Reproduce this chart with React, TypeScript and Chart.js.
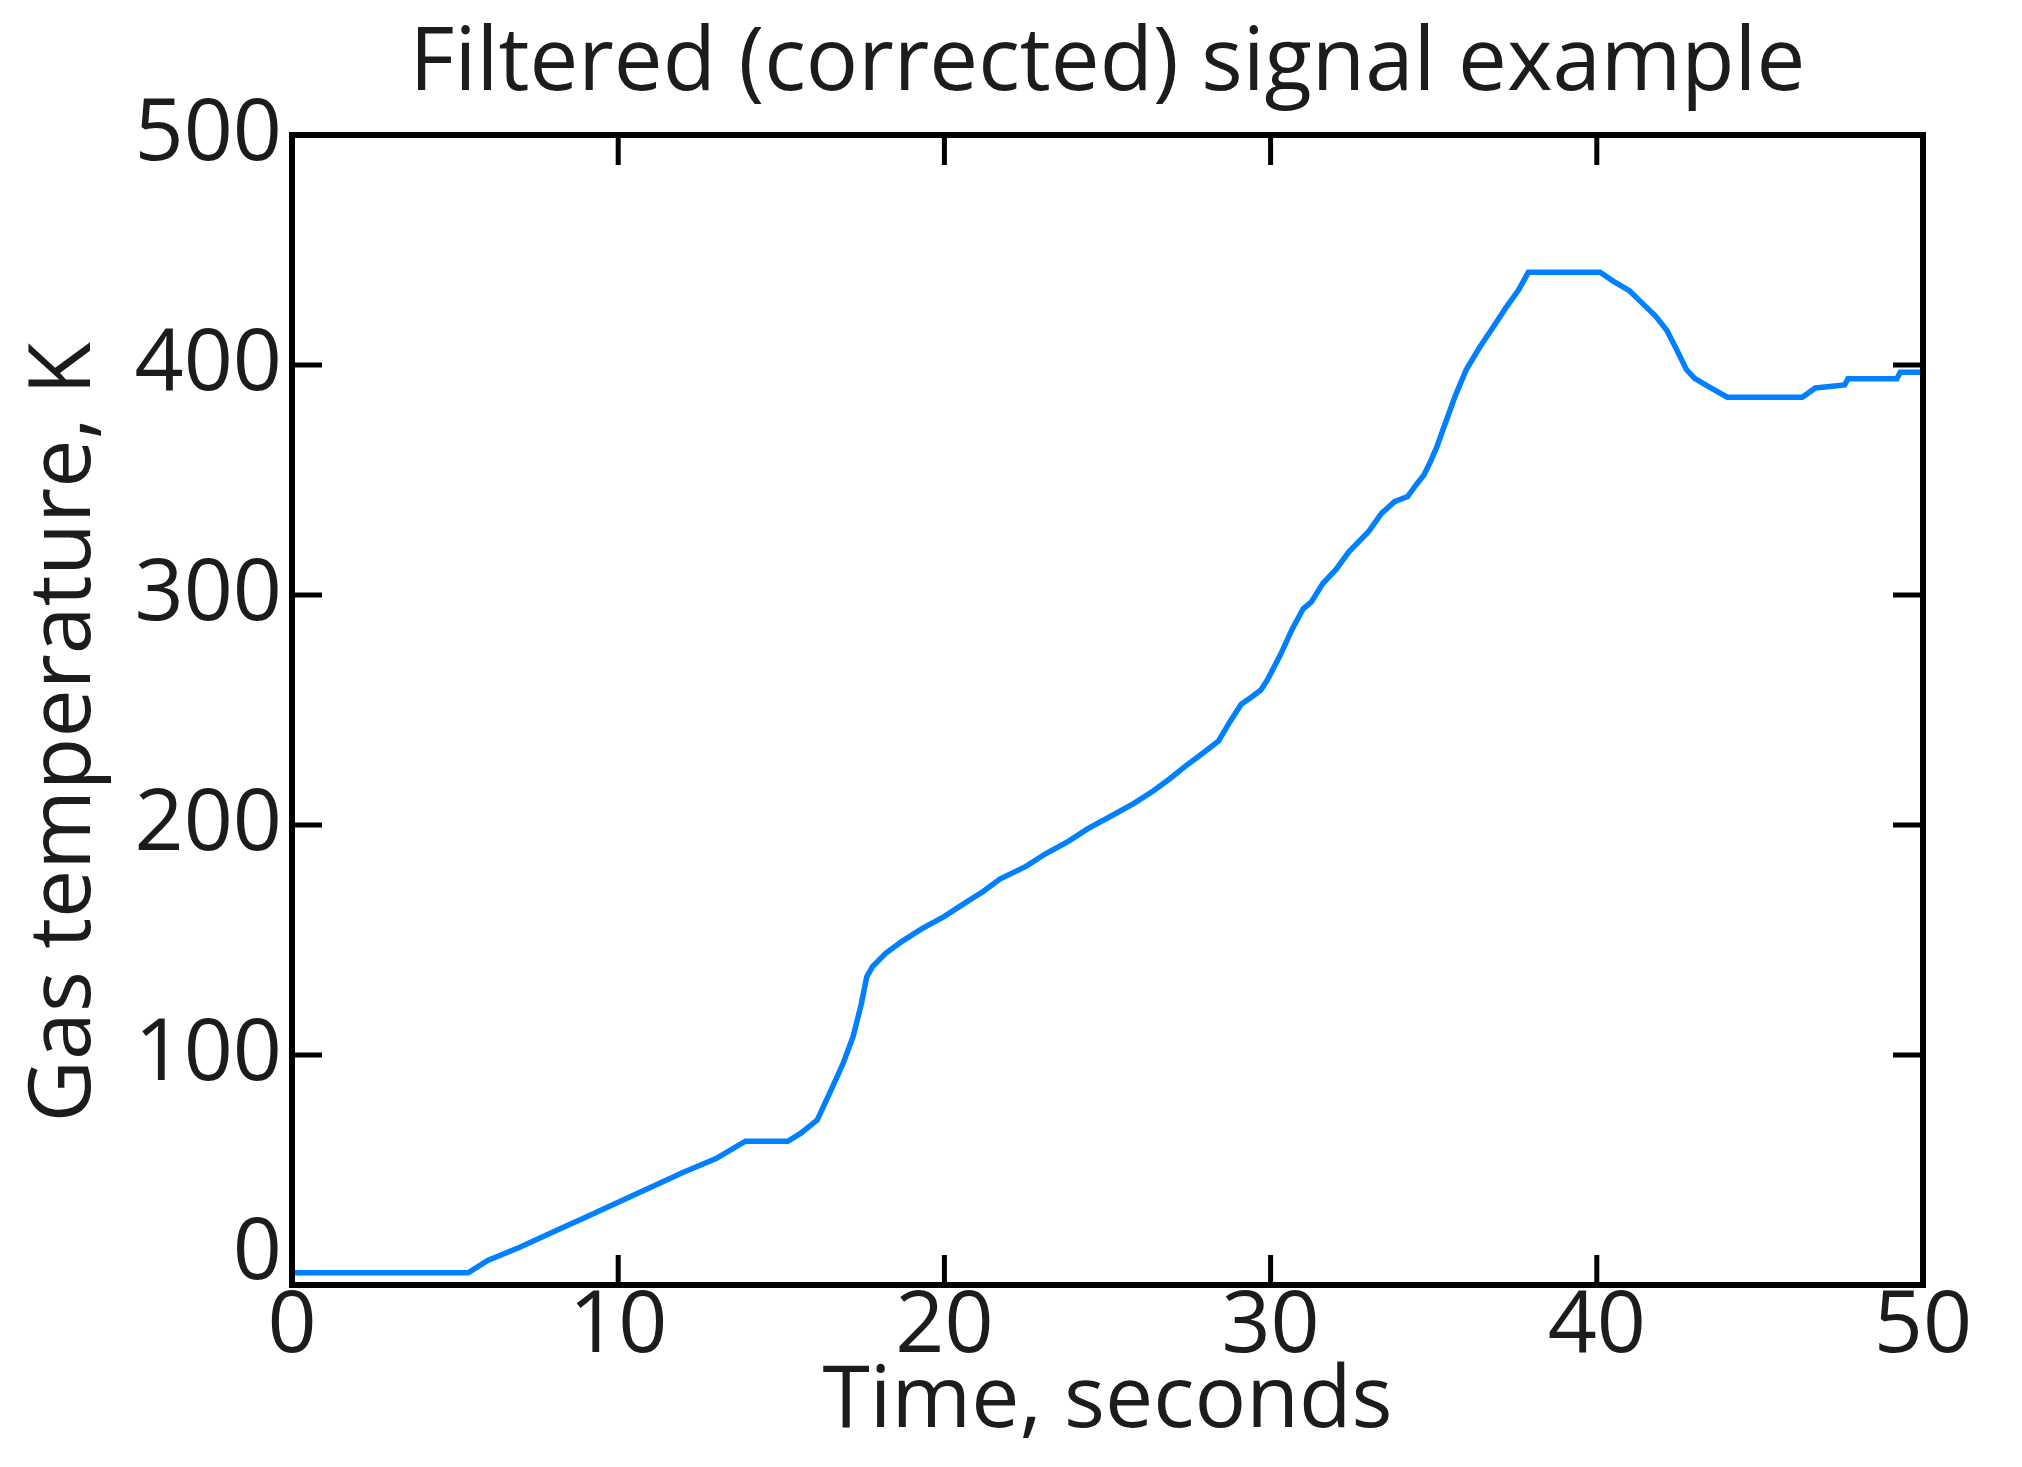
import React, { useEffect, useRef } from 'react';
import { Chart, registerables } from 'chart.js';

Chart.register(...registerables);

const chartTitle = 'Filtered (corrected) signal example';
const xAxisTitle = 'Time, seconds';
const yAxisTitle = 'Gas temperature, K  ';

const timeSeconds = [
  0, 5.4, 6.0, 7.0, 8.0, 9.0, 10.0, 11.0, 12.0, 13.0,
  13.9, 15.2, 15.6, 16.1, 16.5, 16.9, 17.2, 17.45, 17.62, 17.8,
  18.2, 18.7, 19.3, 20.0, 20.6, 21.2, 21.7, 22.5, 23.1, 23.8,
  24.4, 25.1, 25.8, 26.4, 26.9, 27.4, 27.9, 28.4, 28.75, 29.1,
  29.45, 29.7, 29.9, 30.3, 30.65, 31.0, 31.25, 31.6, 32.0, 32.4,
  33.0, 33.4, 33.8, 34.2, 34.5, 34.7, 34.9, 35.1, 35.3, 35.65,
  36.0, 36.4, 36.8, 37.2, 37.6, 37.9, 40.1, 40.5, 41.0, 41.4,
  41.8, 42.15, 42.4, 42.75, 43.0, 43.4, 44.0, 46.3, 46.7, 47.6,
  47.7, 49.2, 49.3, 50.0,
];

const gasTemperatureK = [
  5.3, 5.3, 10.7, 16.5, 23, 29.5, 36, 42.5, 49, 55,
  62.5, 62.5, 66, 71.7, 84, 96.5, 108, 122, 134, 138.5,
  144.2, 149.4, 154.8, 160.3, 165.8, 171.2, 176.5, 182, 187.5, 192.9,
  198.4, 203.8, 209.3, 214.8, 220, 225.7, 231, 236.5, 244.8, 252.5,
  256, 258.7, 263, 274, 284.8, 294, 297, 305, 311, 318.8,
  327.5, 335.5, 340.6, 342.8, 348.6, 352.2, 358, 364.5, 372.5, 386.2,
  398, 407.5, 416, 424.6, 432.6, 440.3, 440.3, 436.5, 432.3, 426.8,
  421.3, 415, 408, 398, 394.2, 390.8, 386, 386, 390, 391.3,
  394, 394, 396.8, 396.8,
];

const xTickValues = [0, 10, 20, 30, 40, 50];
const yTickValues = [0, 100, 200, 300, 400, 500];

const W = 2022;
const H = 1467;
const FONT_FAMILY = '"Open Sans", Lato, sans-serif';
const TEXT_COLOR = '#1c1c1c';
const LINE_COLOR = '#0080ff';

const frameTicksPlugin = {
  id: 'frameTicks',
  afterDatasetsDraw(chart: any) {
    const { ctx, chartArea: a, scales } = chart;
    const len = 30;
    ctx.save();
    ctx.strokeStyle = '#000';
    ctx.lineWidth = 5;
    ctx.lineCap = 'butt';
    ctx.beginPath();
    const xs = scales.x;
    const ys = scales.y;
    xs.ticks.forEach((t: any) => {
      if (t.value <= xs.min || t.value >= xs.max) return;
      const px = xs.getPixelForValue(t.value);
      ctx.moveTo(px, a.bottom);
      ctx.lineTo(px, a.bottom - len);
      ctx.moveTo(px, a.top);
      ctx.lineTo(px, a.top + len);
    });
    ys.ticks.forEach((t: any) => {
      if (t.value <= ys.min || t.value >= ys.max) return;
      const py = ys.getPixelForValue(t.value);
      ctx.moveTo(a.left, py);
      ctx.lineTo(a.left + len, py);
      ctx.moveTo(a.right, py);
      ctx.lineTo(a.right - len, py);
    });
    ctx.stroke();
    ctx.lineWidth = 6;
    ctx.strokeRect(a.left, a.top, a.right - a.left, a.bottom - a.top);
    ctx.restore();
  },
};

export default function App() {
  const canvasRef = useRef<HTMLCanvasElement | null>(null);

  useEffect(() => {
    document.body.style.margin = '0';
    const canvas = canvasRef.current;
    if (!canvas) return;
    const points = timeSeconds.map((t, i) => ({ x: t, y: gasTemperatureK[i] }));
    const font = { family: FONT_FAMILY, size: 86, weight: 'normal' as const, lineHeight: 1 };

    const chart = new Chart(canvas, {
      type: 'line',
      data: {
        datasets: [
          {
            data: points,
            borderColor: LINE_COLOR,
            borderWidth: 5.5,
            pointRadius: 0,
            tension: 0,
            fill: false,
          },
        ],
      },
      options: {
        animation: false,
        responsive: false,
        devicePixelRatio: 1,
        layout: { padding: { top: 0, left: 0, right: 99, bottom: 0 } },
        plugins: {
          legend: { display: false },
          tooltip: { enabled: false },
          title: {
            display: true,
            text: chartTitle,
            color: TEXT_COLOR,
            fullSize: false,
            font: { ...font, size: 87 },
            padding: { top: 22, bottom: 26 },
          },
        },
        scales: {
          x: {
            type: 'linear',
            min: 0,
            max: 50,
            afterBuildTicks: (s: any) => {
              s.ticks = xTickValues.map((v) => ({ value: v }));
            },
            afterFit: (s: any) => {
              s.height = 182;
            },
            grid: { display: false, drawTicks: false },
            border: { display: false },
            ticks: {
              color: TEXT_COLOR,
              font,
              padding: -1,
              maxRotation: 0,
              autoSkip: false,
            },
            title: {
              display: true,
              text: xAxisTitle,
              color: TEXT_COLOR,
              font,
              padding: { top: 0, bottom: 22 },
            },
          },
          y: {
            type: 'linear',
            min: 0,
            max: 500,
            afterBuildTicks: (s: any) => {
              s.ticks = yTickValues.map((v) => ({ value: v }));
            },
            afterFit: (s: any) => {
              s.width = 292;
            },
            grid: { display: false, drawTicks: false },
            border: { display: false },
            ticks: {
              color: TEXT_COLOR,
              font: { ...font, lineHeight: 0.7 },
              padding: 10,
              autoSkip: false,
              callback: (v: any) => (Number(v) === 0 ? ['0', ''] : String(v)),
            },
            title: {
              display: true,
              text: yAxisTitle,
              color: TEXT_COLOR,
              font,
              padding: { top: 22, bottom: 0 },
            },
          },
        },
      },
      plugins: [frameTicksPlugin],
    });

    return () => {
      chart.destroy();
    };
  }, []);

  return (
    <div style={{ width: W, height: H, background: '#fff' }}>
      <canvas ref={canvasRef} width={W} height={H} style={{ display: 'block', width: W, height: H }} />
    </div>
  );
}
